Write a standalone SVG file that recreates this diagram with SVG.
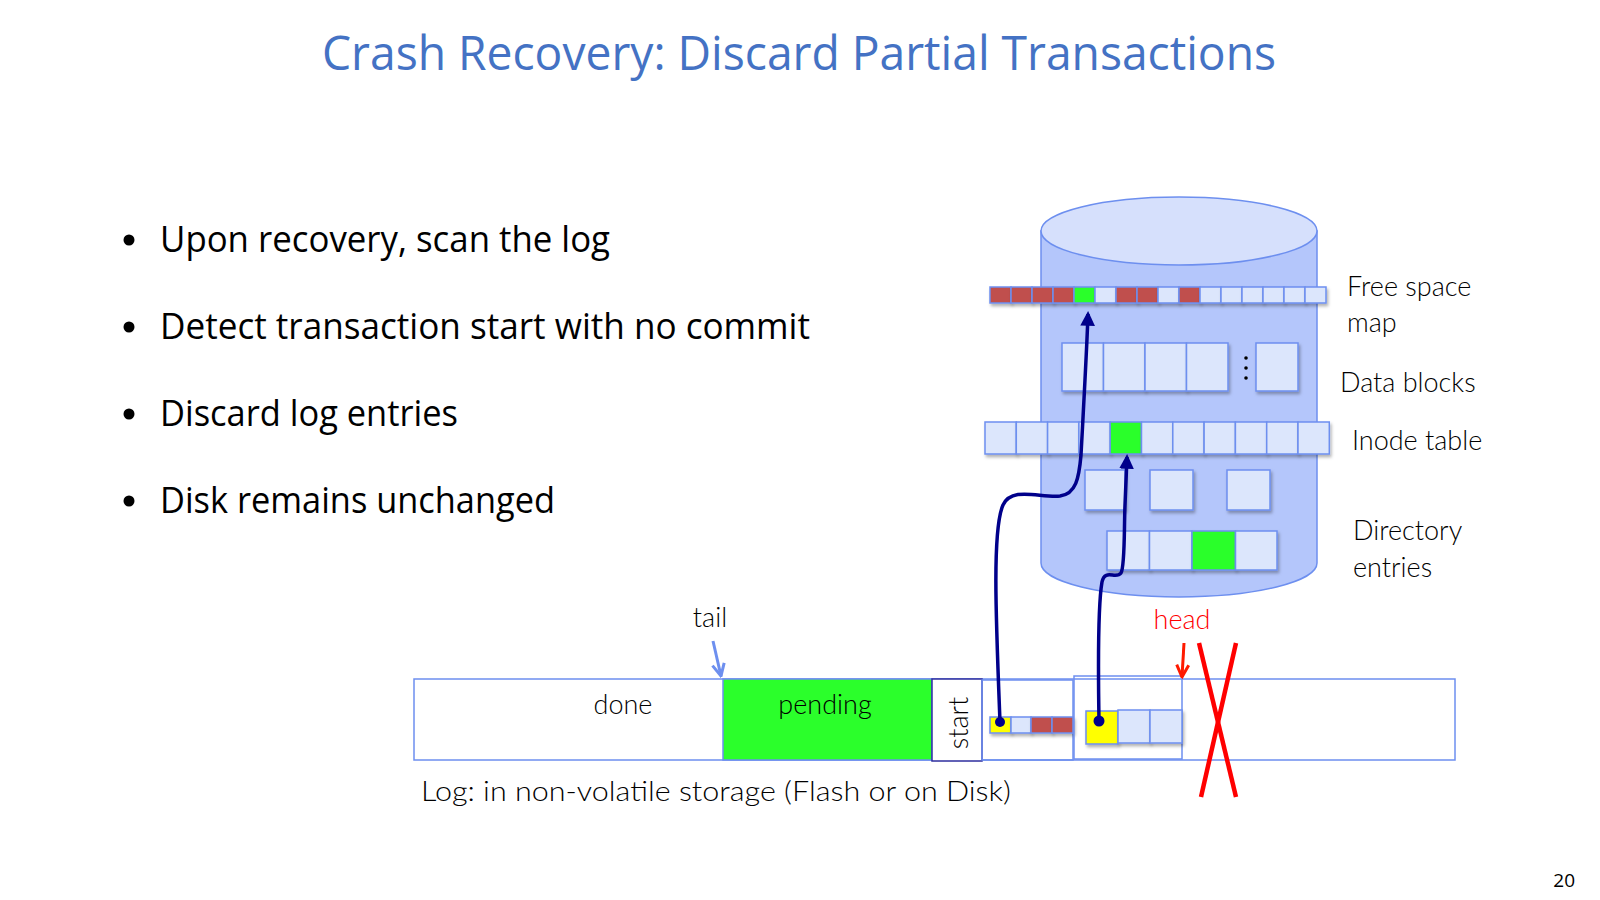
<svg xmlns="http://www.w3.org/2000/svg" width="1600" height="900" viewBox="0 0 1600 900">
  <defs>
    <style>
      .title { font-family: "Open Sans", "Noto Sans", sans-serif; font-size: 48px; fill: #4472C4; }
      .bullet { font-family: "Open Sans", "Noto Sans", sans-serif; font-size: 36px; fill: #000; }
      .lbl { font-family: "Lato", "Noto Sans", sans-serif; font-weight: 300; font-size: 27px; fill: #000; }
      .cell { stroke: #6D8FEF; stroke-width: 1.5; filter: url(#sh); }
      .lt { fill: #DCE6FC; }
      .rd { fill: #C0504D; }
      .gr { fill: #2BFF2B; }
      .yl { fill: #FFFF00; }
      .logbox { fill: none; stroke: #6D8FEF; stroke-width: 1.5; }
      .conn { fill: none; stroke: #00008B; stroke-width: 3.5; }
    </style>
    <filter id="sh" x="-20%" y="-20%" width="150%" height="160%">
      <feDropShadow dx="1.5" dy="2.5" stdDeviation="1.5" flood-color="#000" flood-opacity="0.3"/>
    </filter>
    <marker id="navyArrow" viewBox="0 0 10 10" refX="8" refY="5" markerWidth="4.2" markerHeight="4.2" orient="auto" markerUnits="strokeWidth">
      <path d="M0,0 L10,5 L0,10 Z" fill="#00008B"/>
    </marker>
    <marker id="blueArrow" viewBox="0 0 10 10" refX="9" refY="5" markerWidth="5" markerHeight="5" orient="auto" markerUnits="strokeWidth">
      <path d="M1,1 L9,5 L1,9" fill="none" stroke="#6D8FEF" stroke-width="2"/>
    </marker>
    <marker id="redArrow" viewBox="0 0 10 10" refX="9" refY="5" markerWidth="5" markerHeight="5" orient="auto" markerUnits="strokeWidth">
      <path d="M1,1 L9,5 L1,9" fill="none" stroke="#FF1A00" stroke-width="2"/>
    </marker>
  </defs>

  <rect x="0" y="0" width="1600" height="900" fill="#FFFFFF"/>

  <text class="title" x="799" y="70" text-anchor="middle" textLength="954" lengthAdjust="spacingAndGlyphs">Crash Recovery: Discard Partial Transactions</text>

  <g id="bullets">
    <circle cx="129" cy="240" r="5.5" fill="#000"/>
    <text class="bullet" x="160" y="252" textLength="450" lengthAdjust="spacingAndGlyphs">Upon recovery, scan the log</text>
    <circle cx="129" cy="327" r="5.5" fill="#000"/>
    <text class="bullet" x="160" y="339" textLength="650" lengthAdjust="spacingAndGlyphs">Detect transaction start with no commit</text>
    <circle cx="129" cy="414" r="5.5" fill="#000"/>
    <text class="bullet" x="160" y="426" textLength="298" lengthAdjust="spacingAndGlyphs">Discard log entries</text>
    <circle cx="129" cy="501" r="5.5" fill="#000"/>
    <text class="bullet" x="160" y="513" textLength="395" lengthAdjust="spacingAndGlyphs">Disk remains unchanged</text>
  </g>

  <g id="disk">
    <path d="M1041,231 L1041,563 A138,34 0 0 0 1317,563 L1317,231 Z" fill="#B4C6FB" stroke="#6D8FEF" stroke-width="1.5"/>
    <ellipse cx="1179" cy="231" rx="138" ry="34" fill="#D6E0FC" stroke="#6D8FEF" stroke-width="1.5"/>
  </g>

  <g id="free-space-map">
    <rect class="cell rd" x="990" y="287" width="21" height="16"/>
    <rect class="cell rd" x="1011" y="287" width="21" height="16"/>
    <rect class="cell rd" x="1032" y="287" width="21" height="16"/>
    <rect class="cell rd" x="1053" y="287" width="21" height="16"/>
    <rect class="cell gr" x="1074" y="287" width="21" height="16"/>
    <rect class="cell lt" x="1095" y="287" width="21" height="16"/>
    <rect class="cell rd" x="1116" y="287" width="21" height="16"/>
    <rect class="cell rd" x="1137" y="287" width="21" height="16"/>
    <rect class="cell lt" x="1158" y="287" width="21" height="16"/>
    <rect class="cell rd" x="1179" y="287" width="21" height="16"/>
    <rect class="cell lt" x="1200" y="287" width="21" height="16"/>
    <rect class="cell lt" x="1221" y="287" width="21" height="16"/>
    <rect class="cell lt" x="1242" y="287" width="21" height="16"/>
    <rect class="cell lt" x="1263" y="287" width="21" height="16"/>
    <rect class="cell lt" x="1284" y="287" width="21" height="16"/>
    <rect class="cell lt" x="1305" y="287" width="21" height="16"/>
    <text class="lbl" x="1347" y="296">Free space</text>
    <text class="lbl" x="1347" y="332">map</text>
  </g>

  <g id="data-blocks">
    <rect class="cell lt" x="1062" y="343" width="41.5" height="48"/>
    <rect class="cell lt" x="1103.5" y="343" width="41.5" height="48"/>
    <rect class="cell lt" x="1145" y="343" width="41.5" height="48"/>
    <rect class="cell lt" x="1186.5" y="343" width="41.5" height="48"/>
    <circle cx="1246" cy="358" r="1.8" fill="#000"/>
    <circle cx="1246" cy="368" r="1.8" fill="#000"/>
    <circle cx="1246" cy="378" r="1.8" fill="#000"/>
    <rect class="cell lt" x="1256" y="343" width="42" height="48"/>
    <text class="lbl" x="1340" y="392">Data blocks</text>
  </g>

  <g id="inode-table">
    <rect class="cell lt" x="985" y="422" width="31.3" height="32"/>
    <rect class="cell lt" x="1016.3" y="422" width="31.3" height="32"/>
    <rect class="cell lt" x="1047.6" y="422" width="31.3" height="32"/>
    <rect class="cell lt" x="1078.9" y="422" width="31.3" height="32"/>
    <rect class="cell gr" x="1110.2" y="422" width="31.3" height="32"/>
    <rect class="cell lt" x="1141.5" y="422" width="31.3" height="32"/>
    <rect class="cell lt" x="1172.8" y="422" width="31.3" height="32"/>
    <rect class="cell lt" x="1204.1" y="422" width="31.3" height="32"/>
    <rect class="cell lt" x="1235.4" y="422" width="31.3" height="32"/>
    <rect class="cell lt" x="1266.7" y="422" width="31.3" height="32"/>
    <rect class="cell lt" x="1298" y="422" width="31.3" height="32"/>
    <text class="lbl" x="1352" y="450">Inode table</text>
  </g>

  <g id="directory-entries">
    <rect class="cell lt" x="1085" y="470" width="40" height="40"/>
    <rect class="cell lt" x="1150" y="470" width="43" height="40"/>
    <rect class="cell lt" x="1227" y="470" width="43" height="40"/>
    <rect class="cell lt" x="1107" y="531" width="42.5" height="39"/>
    <rect class="cell lt" x="1149.5" y="531" width="42.5" height="39"/>
    <rect class="cell gr" x="1192" y="531" width="43.5" height="39"/>
    <rect class="cell lt" x="1235.5" y="531" width="41.5" height="39"/>
    <text class="lbl" x="1353" y="540">Directory</text>
    <text class="lbl" x="1353" y="577">entries</text>
  </g>

  <g id="log">
    <rect x="414" y="679" width="1041" height="81" fill="#FFFFFF" stroke="#6D8FEF" stroke-width="1.5"/>
    <rect x="723" y="679" width="209" height="81" fill="#2BFF2B" stroke="#6D8FEF" stroke-width="1.5"/>
    <text class="lbl" x="623" y="714" text-anchor="middle">done</text>
    <text class="lbl" x="825" y="714" text-anchor="middle">pending</text>
    <text class="lbl" x="421" y="801" textLength="590" lengthAdjust="spacingAndGlyphs">Log: in non-volatile storage (Flash or on Disk)</text>
  </g>

  <g id="start-box">
    <rect x="932" y="679" width="50" height="82" fill="#FFFFFF" stroke="#2E2E9E" stroke-width="1.5"/>
    <text class="lbl" x="0" y="0" text-anchor="middle" transform="translate(968,723) rotate(-90)">start</text>
  </g>

  <g id="log-entry-1">
    <rect class="logbox" x="982" y="680" width="91" height="80"/>
    <rect class="cell yl" x="990" y="717" width="21" height="16"/>
    <rect class="cell lt" x="1011" y="717" width="20" height="16"/>
    <rect class="cell rd" x="1031" y="717" width="21" height="16"/>
    <rect class="cell rd" x="1052" y="717" width="21" height="16"/>
  </g>

  <g id="log-entry-2">
    <rect class="logbox" x="1074" y="676" width="108" height="83"/>
    <rect class="cell yl" x="1086" y="711" width="32" height="33"/>
    <rect class="cell lt" x="1118" y="710" width="32" height="33"/>
    <rect class="cell lt" x="1150" y="710" width="32" height="33"/>
  </g>

  <g id="tail">
    <text class="lbl" x="710" y="627" text-anchor="middle">tail</text>
  </g>

  <g id="head">
    <text class="lbl" x="1182" y="629" text-anchor="middle" style="fill:#FF0000">head</text>
  </g>

  <g id="crash-x">
    <line x1="1199" y1="643" x2="1236" y2="797" stroke="#FF0000" stroke-width="4.5"/>
    <line x1="1236" y1="643" x2="1201" y2="797" stroke="#FF0000" stroke-width="4.5"/>
  </g>

  <g id="connectors">
    <path class="conn" d="M1000,722 C996,620 992,530 1003,505 C1012,486 1040,498 1060,496 C1076,494 1079,478 1081,455 C1084,400 1087,345 1088,314" marker-end="url(#navyArrow)"/>
    <path class="conn" d="M1099,721 C1098,660 1098,605 1102,582 C1105,568 1116,580 1121,573 C1125,566 1124,530 1125,505 L1127,457" marker-end="url(#navyArrow)"/>
    <circle cx="1000" cy="722" r="5" fill="#00008B"/>
    <circle cx="1099" cy="721" r="5.5" fill="#00008B"/>
    <path d="M713,641 L721,676" fill="none" stroke="#6D8FEF" stroke-width="3" marker-end="url(#blueArrow)"/>
    <path d="M1184,643 L1182,677" fill="none" stroke="#FF1A00" stroke-width="3" marker-end="url(#redArrow)"/>
  </g>

  <text x="1575" y="887" text-anchor="end" font-family="Open Sans, Noto Sans, sans-serif" font-size="19" fill="#000">20</text>
</svg>
